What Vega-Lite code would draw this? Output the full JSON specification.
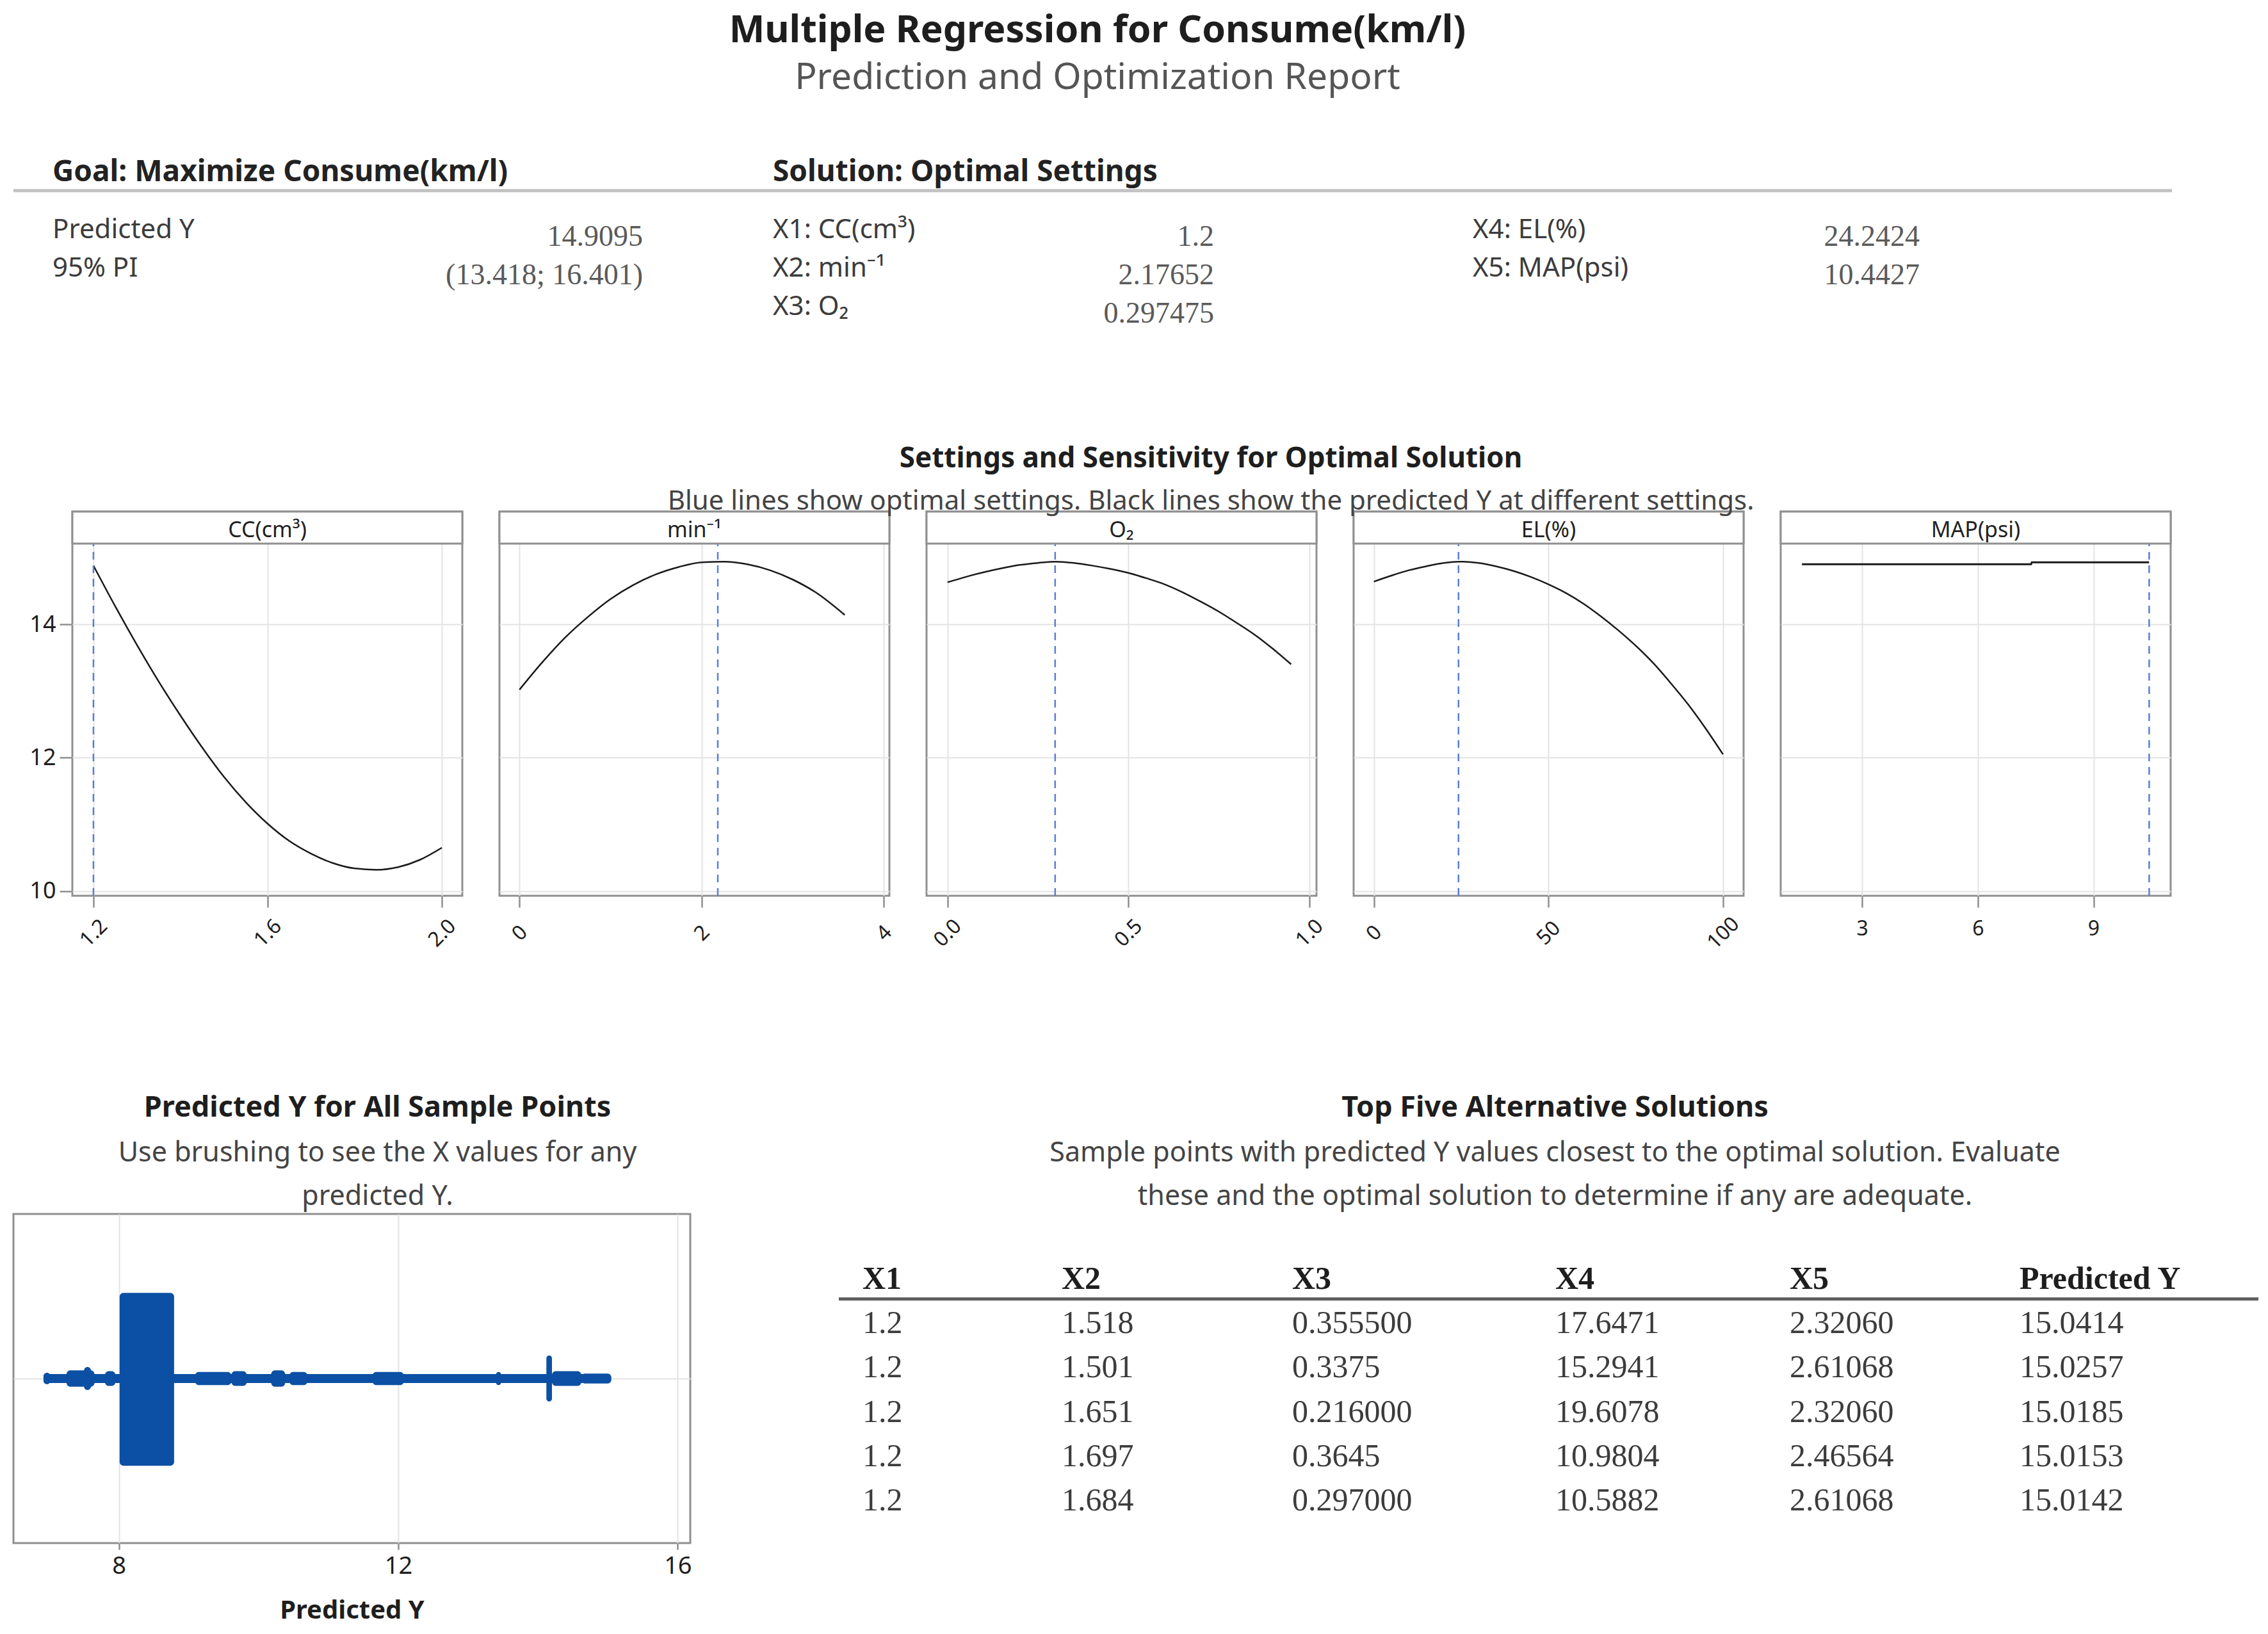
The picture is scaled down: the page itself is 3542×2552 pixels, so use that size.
{
  "$schema": "https://vega.github.io/schema/vega-lite/v6.json",
  "background": "white",
  "padding": {"left": 18, "top": 19, "right": 10, "bottom": 5},
  "title": {
    "text": "Multiple Regression for Consume(km/l)",
    "subtitle": "Prediction and Optimization Report",
    "anchor": "middle", "dx": -60,
    "fontSize": 59, "fontWeight": "bold", "color": "#1e1e1e",
    "subtitleFontSize": 57, "subtitleColor": "#555555", "subtitlePadding": 16,
    "offset": 88
  },
  "columns": 1,
  "align": "none",
  "spacing": 167,
  "datasets": {
    "infoHead": [
      {"c": 1, "r": 0, "t": "Goal: Maximize Consume(km/l)"},
      {"c": 3, "r": 0, "t": "Solution: Optimal Settings"}
    ],
    "infoLabels": [
      {"c": 1, "r": 1, "t": "Predicted Y"},
      {"c": 1, "r": 2, "t": "95% PI"},
      {"c": 3, "r": 1, "t": "X1: CC(cm³)"},
      {"c": 3, "r": 2, "t": "X2: min⁻¹"},
      {"c": 3, "r": 3, "t": "X3: O₂"},
      {"c": 5, "r": 1, "t": "X4: EL(%)"},
      {"c": 5, "r": 2, "t": "X5: MAP(psi)"}
    ],
    "infoValues": [
      {"c": 2, "r": 1, "t": "14.9095"},
      {"c": 2, "r": 2, "t": "(13.418; 16.401)"},
      {"c": 4, "r": 1, "t": "1.2"},
      {"c": 4, "r": 2, "t": "2.17652"},
      {"c": 4, "r": 3, "t": "0.297475"},
      {"c": 6, "r": 1, "t": "24.2424"},
      {"c": 6, "r": 2, "t": "10.4427"}
    ],
    "settings": [
      {"f": "CC", "label": "CC(cm³)", "opt": 1.2},
      {"f": "RPM", "label": "min⁻¹", "opt": 2.17652},
      {"f": "O2", "label": "O₂", "opt": 0.297475},
      {"f": "EL", "label": "EL(%)", "opt": 24.2424},
      {"f": "MAP", "label": "MAP(psi)", "opt": 10.4427}
    ],
    "curves": [
      {"f": "CC", "x": 1.2, "y": 14.88}, {"f": "CC", "x": 1.25, "y": 14.27}, {"f": "CC", "x": 1.3, "y": 13.69},
      {"f": "CC", "x": 1.35, "y": 13.14}, {"f": "CC", "x": 1.4, "y": 12.63}, {"f": "CC", "x": 1.45, "y": 12.15},
      {"f": "CC", "x": 1.5, "y": 11.71}, {"f": "CC", "x": 1.55, "y": 11.33}, {"f": "CC", "x": 1.6, "y": 11.01},
      {"f": "CC", "x": 1.65, "y": 10.75}, {"f": "CC", "x": 1.7, "y": 10.56}, {"f": "CC", "x": 1.75, "y": 10.42},
      {"f": "CC", "x": 1.8, "y": 10.34}, {"f": "CC", "x": 1.85, "y": 10.32}, {"f": "CC", "x": 1.9, "y": 10.36},
      {"f": "CC", "x": 1.95, "y": 10.47}, {"f": "CC", "x": 2.0, "y": 10.65},
      {"f": "RPM", "x": 0, "y": 13.02}, {"f": "RPM", "x": 0.25, "y": 13.43}, {"f": "RPM", "x": 0.5, "y": 13.80},
      {"f": "RPM", "x": 0.75, "y": 14.11}, {"f": "RPM", "x": 1.0, "y": 14.38}, {"f": "RPM", "x": 1.25, "y": 14.59},
      {"f": "RPM", "x": 1.5, "y": 14.75}, {"f": "RPM", "x": 1.75, "y": 14.86}, {"f": "RPM", "x": 2.0, "y": 14.93},
      {"f": "RPM", "x": 2.25, "y": 14.94}, {"f": "RPM", "x": 2.5, "y": 14.90}, {"f": "RPM", "x": 2.75, "y": 14.81},
      {"f": "RPM", "x": 3.0, "y": 14.67}, {"f": "RPM", "x": 3.25, "y": 14.48}, {"f": "RPM", "x": 3.57, "y": 14.14},
      {"f": "O2", "x": 0, "y": 14.63}, {"f": "O2", "x": 0.05, "y": 14.71}, {"f": "O2", "x": 0.1, "y": 14.78},
      {"f": "O2", "x": 0.15, "y": 14.84}, {"f": "O2", "x": 0.2, "y": 14.89}, {"f": "O2", "x": 0.25, "y": 14.92},
      {"f": "O2", "x": 0.3, "y": 14.94}, {"f": "O2", "x": 0.35, "y": 14.92}, {"f": "O2", "x": 0.4, "y": 14.88},
      {"f": "O2", "x": 0.45, "y": 14.83}, {"f": "O2", "x": 0.5, "y": 14.77}, {"f": "O2", "x": 0.55, "y": 14.69},
      {"f": "O2", "x": 0.6, "y": 14.60}, {"f": "O2", "x": 0.65, "y": 14.48}, {"f": "O2", "x": 0.7, "y": 14.34},
      {"f": "O2", "x": 0.75, "y": 14.19}, {"f": "O2", "x": 0.8, "y": 14.02}, {"f": "O2", "x": 0.85, "y": 13.84},
      {"f": "O2", "x": 0.9, "y": 13.63}, {"f": "O2", "x": 0.95, "y": 13.40},
      {"f": "EL", "x": 0, "y": 14.64}, {"f": "EL", "x": 5, "y": 14.73}, {"f": "EL", "x": 10, "y": 14.81},
      {"f": "EL", "x": 15, "y": 14.87}, {"f": "EL", "x": 20, "y": 14.92}, {"f": "EL", "x": 24.2, "y": 14.94},
      {"f": "EL", "x": 30, "y": 14.92}, {"f": "EL", "x": 35, "y": 14.87}, {"f": "EL", "x": 40, "y": 14.80},
      {"f": "EL", "x": 45, "y": 14.71}, {"f": "EL", "x": 50, "y": 14.60}, {"f": "EL", "x": 55, "y": 14.47},
      {"f": "EL", "x": 60, "y": 14.31}, {"f": "EL", "x": 65, "y": 14.12}, {"f": "EL", "x": 70, "y": 13.91},
      {"f": "EL", "x": 75, "y": 13.68}, {"f": "EL", "x": 80, "y": 13.42}, {"f": "EL", "x": 85, "y": 13.12},
      {"f": "EL", "x": 90, "y": 12.80}, {"f": "EL", "x": 95, "y": 12.44}, {"f": "EL", "x": 100, "y": 12.05},
      {"f": "MAP", "x": 1.44, "y": 14.90}, {"f": "MAP", "x": 7.38, "y": 14.90},
      {"f": "MAP", "x": 7.40, "y": 14.93}, {"f": "MAP", "x": 10.44, "y": 14.93}
    ],
    "bands": [
      {"lo": 6.95, "hi": 15.03, "bot": -0.027, "top": 0.027},
      {"lo": 6.92, "hi": 7.02, "bot": -0.035, "top": 0.035},
      {"lo": 7.25, "hi": 7.65, "bot": -0.05, "top": 0.05},
      {"lo": 7.50, "hi": 7.60, "bot": -0.07, "top": 0.07},
      {"lo": 7.80, "hi": 7.95, "bot": -0.045, "top": 0.045},
      {"lo": 8.01, "hi": 8.79, "bot": -0.53, "top": 0.52},
      {"lo": 9.09, "hi": 9.61, "bot": -0.04, "top": 0.04},
      {"lo": 9.61, "hi": 9.83, "bot": -0.045, "top": 0.045},
      {"lo": 10.18, "hi": 10.38, "bot": -0.05, "top": 0.05},
      {"lo": 10.44, "hi": 10.70, "bot": -0.04, "top": 0.04},
      {"lo": 11.63, "hi": 12.08, "bot": -0.04, "top": 0.04},
      {"lo": 13.40, "hi": 13.47, "bot": -0.04, "top": 0.04},
      {"lo": 14.12, "hi": 14.20, "bot": -0.14, "top": 0.14},
      {"lo": 14.20, "hi": 14.62, "bot": -0.045, "top": 0.045},
      {"lo": 14.62, "hi": 15.05, "bot": -0.03, "top": 0.03}
    ],
    "tableHead": [
      {"c": 1, "r": 0, "t": "X1"}, {"c": 2, "r": 0, "t": "X2"}, {"c": 3, "r": 0, "t": "X3"},
      {"c": 4, "r": 0, "t": "X4"}, {"c": 5, "r": 0, "t": "X5"}, {"c": 6, "r": 0, "t": "Predicted Y"}
    ],
    "tableBody": [
      {"c": 1, "r": 1, "t": "1.2"}, {"c": 2, "r": 1, "t": "1.518"}, {"c": 3, "r": 1, "t": "0.355500"}, {"c": 4, "r": 1, "t": "17.6471"}, {"c": 5, "r": 1, "t": "2.32060"}, {"c": 6, "r": 1, "t": "15.0414"},
      {"c": 1, "r": 2, "t": "1.2"}, {"c": 2, "r": 2, "t": "1.501"}, {"c": 3, "r": 2, "t": "0.3375"}, {"c": 4, "r": 2, "t": "15.2941"}, {"c": 5, "r": 2, "t": "2.61068"}, {"c": 6, "r": 2, "t": "15.0257"},
      {"c": 1, "r": 3, "t": "1.2"}, {"c": 2, "r": 3, "t": "1.651"}, {"c": 3, "r": 3, "t": "0.216000"}, {"c": 4, "r": 3, "t": "19.6078"}, {"c": 5, "r": 3, "t": "2.32060"}, {"c": 6, "r": 3, "t": "15.0185"},
      {"c": 1, "r": 4, "t": "1.2"}, {"c": 2, "r": 4, "t": "1.697"}, {"c": 3, "r": 4, "t": "0.3645"}, {"c": 4, "r": 4, "t": "10.9804"}, {"c": 5, "r": 4, "t": "2.46564"}, {"c": 6, "r": 4, "t": "15.0153"},
      {"c": 1, "r": 5, "t": "1.2"}, {"c": 2, "r": 5, "t": "1.684"}, {"c": 3, "r": 5, "t": "0.297000"}, {"c": 4, "r": 5, "t": "10.5882"}, {"c": 5, "r": 5, "t": "2.61068"}, {"c": 6, "r": 5, "t": "15.0142"}
    ]
  },
  "concat": [
    {
      "width": 3371, "height": 290,
      "view": {"stroke": null},
      "layer": [
        {
          "data": {"name": "infoHead"},
          "mark": {"type": "text", "align": "left", "baseline": "middle", "fontSize": 46, "fontWeight": "bold", "color": "#222222"},
          "encoding": {
            "x": {"field": "c", "type": "quantitative", "scale": {"domain": [1, 2, 3, 4, 5, 6], "range": [61, 983, 1186, 1875, 2279, 2977], "nice": false, "zero": false}, "axis": null},
            "y": {"field": "r", "type": "quantitative", "scale": {"domain": [0, 1, 3], "range": [31, 121, 241], "nice": false, "zero": false}, "axis": null},
            "text": {"field": "t"}
          }
        },
        {
          "data": {"values": [{}]},
          "mark": {"type": "rule", "color": "#c2c2c2", "strokeWidth": 5},
          "encoding": {"y": {"datum": 0.32}}
        },
        {
          "data": {"name": "infoLabels"},
          "mark": {"type": "text", "align": "left", "baseline": "middle", "fontSize": 42, "color": "#3c3c3c"},
          "encoding": {
            "x": {"field": "c", "type": "quantitative"},
            "y": {"field": "r", "type": "quantitative"},
            "text": {"field": "t"}
          }
        },
        {
          "data": {"name": "infoValues"},
          "mark": {"type": "text", "align": "right", "baseline": "middle", "dy": 11, "font": "Liberation Serif", "fontSize": 46, "color": "#5a5a5a"},
          "encoding": {
            "x": {"field": "c", "type": "quantitative"},
            "y": {"field": "r", "type": "quantitative"},
            "text": {"field": "t"}
          }
        }
      ]
    },
    {
      "title": {
        "text": "Settings and Sensitivity for Optimal Solution",
        "subtitle": "Blue lines show optimal settings. Black lines show the predicted Y at different settings.",
        "anchor": "middle", "dx": 184,
        "fontSize": 44, "fontWeight": "bold",
        "subtitleFontSize": 42, "subtitlePadding": 24, "offset": -8
      },
      "spacing": 58,
      "bounds": "flush",
      "hconcat": [
        {
          "width": 34, "height": 600,
          "view": {"stroke": null},
          "data": {"name": "curves"}, "transform": [{"filter": "datum.f === 'CC'"}],
          "mark": {"type": "point", "opacity": 0, "size": 0},
          "encoding": {
            "y": {"field": "y", "type": "quantitative", "scale": {"domain": [9.93, 15.69], "nice": false, "zero": false},
                  "axis": {"values": [10, 12, 14], "format": "d", "title": null, "grid": false, "labelFontSize": 36, "tickSize": 20, "labelPadding": 6, "offset": -92}}
          }
        },
        {
          "width": 609, "height": 600,
          "layer": [
            {
              "data": {"name": "curves"}, "transform": [{"filter": "datum.f === 'CC'"}],
              "mark": {"type": "line", "color": "#1a1a1a", "strokeWidth": 2.5, "interpolate": "monotone"},
              "encoding": {
                "x": {"field": "x", "type": "quantitative", "scale": {"domain": [1.1516, 2.047], "nice": false, "zero": false},
                      "axis": {"values": [1.2, 1.6, 2.0], "format": ".1f", "title": null, "tickSize": 18, "labelFontSize": 32, "labelAngle": -45, "labelAlign": "center", "labelBaseline": "middle", "labelPadding": 40, "minExtent": 138}},
                "y": {"field": "y", "type": "quantitative", "scale": {"domain": [9.93, 15.69], "nice": false, "zero": false},
                      "axis": {"values": [10, 12, 14], "title": null, "labels": false, "ticks": false}}
              }
            },
            {
              "data": {"name": "settings"}, "transform": [{"filter": "datum.f === 'CC'"}],
              "mark": {"type": "rule", "color": "#5a7fd8", "strokeWidth": 2.5, "strokeDash": [12, 9]},
              "encoding": {"x": {"field": "opt", "type": "quantitative"}}
            },
            {
              "data": {"name": "settings"}, "transform": [{"filter": "datum.f === 'CC'"}],
              "mark": {"type": "rect", "fill": "white", "stroke": "#8f8f8f", "strokeWidth": 3},
              "encoding": {"y": {"datum": 15.69}, "y2": {"datum": 15.21}}
            },
            {
              "data": {"name": "settings"}, "transform": [{"filter": "datum.f === 'CC'"}],
              "mark": {"type": "text", "fontSize": 34, "color": "#222222", "baseline": "middle"},
              "encoding": {"y": {"datum": 15.40}, "text": {"field": "label"}}
            }
          ]
        },
        {
          "width": 609, "height": 600,
          "layer": [
            {
              "data": {"name": "curves"}, "transform": [{"filter": "datum.f === 'RPM'"}],
              "mark": {"type": "line", "color": "#1a1a1a", "strokeWidth": 2.5, "interpolate": "monotone"},
              "encoding": {
                "x": {"field": "x", "type": "quantitative", "scale": {"domain": [-0.22, 4.06], "nice": false, "zero": false},
                      "axis": {"values": [0, 2, 4], "format": "d", "title": null, "tickSize": 18, "labelFontSize": 32, "labelAngle": -45, "labelAlign": "center", "labelBaseline": "middle", "labelPadding": 40, "minExtent": 138}},
                "y": {"field": "y", "type": "quantitative", "scale": {"domain": [9.93, 15.69], "nice": false, "zero": false},
                      "axis": {"values": [10, 12, 14], "title": null, "labels": false, "ticks": false}}
              }
            },
            {
              "data": {"name": "settings"}, "transform": [{"filter": "datum.f === 'RPM'"}],
              "mark": {"type": "rule", "color": "#5a7fd8", "strokeWidth": 2.5, "strokeDash": [12, 9]},
              "encoding": {"x": {"field": "opt", "type": "quantitative"}}
            },
            {
              "data": {"name": "settings"}, "transform": [{"filter": "datum.f === 'RPM'"}],
              "mark": {"type": "rect", "fill": "white", "stroke": "#8f8f8f", "strokeWidth": 3},
              "encoding": {"y": {"datum": 15.69}, "y2": {"datum": 15.21}}
            },
            {
              "data": {"name": "settings"}, "transform": [{"filter": "datum.f === 'RPM'"}],
              "mark": {"type": "text", "fontSize": 34, "color": "#222222", "baseline": "middle"},
              "encoding": {"y": {"datum": 15.40}, "text": {"field": "label"}}
            }
          ]
        },
        {
          "width": 609, "height": 600,
          "layer": [
            {
              "data": {"name": "curves"}, "transform": [{"filter": "datum.f === 'O2'"}],
              "mark": {"type": "line", "color": "#1a1a1a", "strokeWidth": 2.5, "interpolate": "monotone"},
              "encoding": {
                "x": {"field": "x", "type": "quantitative", "scale": {"domain": [-0.058, 1.02], "nice": false, "zero": false},
                      "axis": {"values": [0, 0.5, 1.0], "format": ".1f", "title": null, "tickSize": 18, "labelFontSize": 32, "labelAngle": -45, "labelAlign": "center", "labelBaseline": "middle", "labelPadding": 40, "minExtent": 138}},
                "y": {"field": "y", "type": "quantitative", "scale": {"domain": [9.93, 15.69], "nice": false, "zero": false},
                      "axis": {"values": [10, 12, 14], "title": null, "labels": false, "ticks": false}}
              }
            },
            {
              "data": {"name": "settings"}, "transform": [{"filter": "datum.f === 'O2'"}],
              "mark": {"type": "rule", "color": "#5a7fd8", "strokeWidth": 2.5, "strokeDash": [12, 9]},
              "encoding": {"x": {"field": "opt", "type": "quantitative"}}
            },
            {
              "data": {"name": "settings"}, "transform": [{"filter": "datum.f === 'O2'"}],
              "mark": {"type": "rect", "fill": "white", "stroke": "#8f8f8f", "strokeWidth": 3},
              "encoding": {"y": {"datum": 15.69}, "y2": {"datum": 15.21}}
            },
            {
              "data": {"name": "settings"}, "transform": [{"filter": "datum.f === 'O2'"}],
              "mark": {"type": "text", "fontSize": 34, "color": "#222222", "baseline": "middle"},
              "encoding": {"y": {"datum": 15.40}, "text": {"field": "label"}}
            }
          ]
        },
        {
          "width": 609, "height": 600,
          "layer": [
            {
              "data": {"name": "curves"}, "transform": [{"filter": "datum.f === 'EL'"}],
              "mark": {"type": "line", "color": "#1a1a1a", "strokeWidth": 2.5, "interpolate": "monotone"},
              "encoding": {
                "x": {"field": "x", "type": "quantitative", "scale": {"domain": [-5.8, 105.9], "nice": false, "zero": false},
                      "axis": {"values": [0, 50, 100], "format": "d", "title": null, "tickSize": 18, "labelFontSize": 32, "labelAngle": -45, "labelAlign": "center", "labelBaseline": "middle", "labelPadding": 40, "minExtent": 138}},
                "y": {"field": "y", "type": "quantitative", "scale": {"domain": [9.93, 15.69], "nice": false, "zero": false},
                      "axis": {"values": [10, 12, 14], "title": null, "labels": false, "ticks": false}}
              }
            },
            {
              "data": {"name": "settings"}, "transform": [{"filter": "datum.f === 'EL'"}],
              "mark": {"type": "rule", "color": "#5a7fd8", "strokeWidth": 2.5, "strokeDash": [12, 9]},
              "encoding": {"x": {"field": "opt", "type": "quantitative"}}
            },
            {
              "data": {"name": "settings"}, "transform": [{"filter": "datum.f === 'EL'"}],
              "mark": {"type": "rect", "fill": "white", "stroke": "#8f8f8f", "strokeWidth": 3},
              "encoding": {"y": {"datum": 15.69}, "y2": {"datum": 15.21}}
            },
            {
              "data": {"name": "settings"}, "transform": [{"filter": "datum.f === 'EL'"}],
              "mark": {"type": "text", "fontSize": 34, "color": "#222222", "baseline": "middle"},
              "encoding": {"y": {"datum": 15.40}, "text": {"field": "label"}}
            }
          ]
        },
        {
          "width": 609, "height": 600,
          "layer": [
            {
              "data": {"name": "curves"}, "transform": [{"filter": "datum.f === 'MAP'"}],
              "mark": {"type": "line", "color": "#1a1a1a", "strokeWidth": 3},
              "encoding": {
                "x": {"field": "x", "type": "quantitative", "scale": {"domain": [0.89, 11.0], "nice": false, "zero": false},
                      "axis": {"values": [3, 6, 9], "format": "d", "title": null, "tickSize": 18, "labelFontSize": 32, "labelAngle": 0, "labelAlign": "center", "labelBaseline": "middle", "labelPadding": 33, "minExtent": 138}},
                "y": {"field": "y", "type": "quantitative", "scale": {"domain": [9.93, 15.69], "nice": false, "zero": false},
                      "axis": {"values": [10, 12, 14], "title": null, "labels": false, "ticks": false}}
              }
            },
            {
              "data": {"name": "settings"}, "transform": [{"filter": "datum.f === 'MAP'"}],
              "mark": {"type": "rule", "color": "#5a7fd8", "strokeWidth": 2.5, "strokeDash": [12, 9]},
              "encoding": {"x": {"field": "opt", "type": "quantitative"}}
            },
            {
              "data": {"name": "settings"}, "transform": [{"filter": "datum.f === 'MAP'"}],
              "mark": {"type": "rect", "fill": "white", "stroke": "#8f8f8f", "strokeWidth": 3},
              "encoding": {"y": {"datum": 15.69}, "y2": {"datum": 15.21}}
            },
            {
              "data": {"name": "settings"}, "transform": [{"filter": "datum.f === 'MAP'"}],
              "mark": {"type": "text", "fontSize": 34, "color": "#222222", "baseline": "middle"},
              "encoding": {"y": {"datum": 15.40}, "text": {"field": "label"}}
            }
          ]
        }
      ]
    },
    {
      "spacing": 225,
      "hconcat": [
        {
          "title": {
            "text": "Predicted Y for All Sample Points",
            "subtitle": ["Use brushing to see the X values for any", "predicted Y."],
            "anchor": "middle", "dx": 40,
            "fontSize": 45, "fontWeight": "bold",
            "subtitleFontSize": 43, "subtitleLineHeight": 68, "subtitlePadding": 27, "offset": 5
          },
          "width": 1057, "height": 514,
          "data": {"name": "bands"},
          "mark": {"type": "rect", "color": "#0b50a4", "cornerRadius": 6},
          "encoding": {
            "x": {"field": "lo", "type": "quantitative", "scale": {"domain": [6.49, 16.18], "nice": false, "zero": false},
                  "axis": {"values": [8, 12, 16], "title": "Predicted Y", "labelFontSize": 38, "titleFontSize": 40, "titleFontWeight": "bold", "tickSize": 10, "labelPadding": 7, "titlePadding": 30}},
            "x2": {"field": "hi"},
            "y": {"field": "bot", "type": "quantitative", "scale": {"domain": [-1, 1], "nice": false, "zero": false},
                  "axis": {"values": [0], "labels": false, "ticks": false, "title": null}},
            "y2": {"field": "top"}
          }
        },
        {
          "title": {
            "text": "Top Five Alternative Solutions",
            "subtitle": ["Sample points with predicted Y values closest to the optimal solution. Evaluate", "these and the optimal solution to determine if any are adequate."],
            "anchor": "middle", "dx": 10,
            "fontSize": 45, "fontWeight": "bold",
            "subtitleFontSize": 43, "subtitleLineHeight": 68, "subtitlePadding": 27, "offset": 5
          },
          "width": 2217, "height": 514,
          "view": {"stroke": null},
          "layer": [
            {
              "data": {"name": "tableHead"},
              "mark": {"type": "text", "align": "left", "baseline": "middle", "font": "Liberation Serif", "fontSize": 50, "fontWeight": "bold", "color": "#1e1e1e"},
              "encoding": {
                "x": {"field": "c", "type": "quantitative", "scale": {"domain": [1, 2, 3, 4, 5, 6], "range": [37, 348, 708, 1119, 1485, 1844], "nice": false, "zero": false}, "axis": null},
                "y": {"field": "r", "type": "quantitative", "scale": {"domain": [0, 5], "range": [102, 448], "nice": false, "zero": false}, "axis": null},
                "text": {"field": "t"}
              }
            },
            {
              "data": {"values": [{}]},
              "mark": {"type": "rule", "color": "#5e5e5e", "strokeWidth": 5},
              "encoding": {"y": {"datum": 0.445}}
            },
            {
              "data": {"name": "tableBody"},
              "mark": {"type": "text", "align": "left", "baseline": "middle", "font": "Liberation Serif", "fontSize": 50, "color": "#3c3c3c"},
              "encoding": {
                "x": {"field": "c", "type": "quantitative"},
                "y": {"field": "r", "type": "quantitative"},
                "text": {"field": "t"}
              }
            }
          ]
        }
      ]
    }
  ],
  "config": {
    "font": "Noto Sans",
    "view": {"stroke": "#8f8f8f", "strokeWidth": 3},
    "axis": {"gridColor": "#e3e3e3", "gridWidth": 2, "domain": false, "tickColor": "#8f8f8f", "tickWidth": 2.5, "labelColor": "#1e1e1e", "titleColor": "#1e1e1e", "labelFont": "Noto Sans", "titleFont": "Noto Sans"},
    "title": {"color": "#1e1e1e", "subtitleColor": "#444444", "font": "Noto Sans", "subtitleFont": "Noto Sans"}
  }
}
